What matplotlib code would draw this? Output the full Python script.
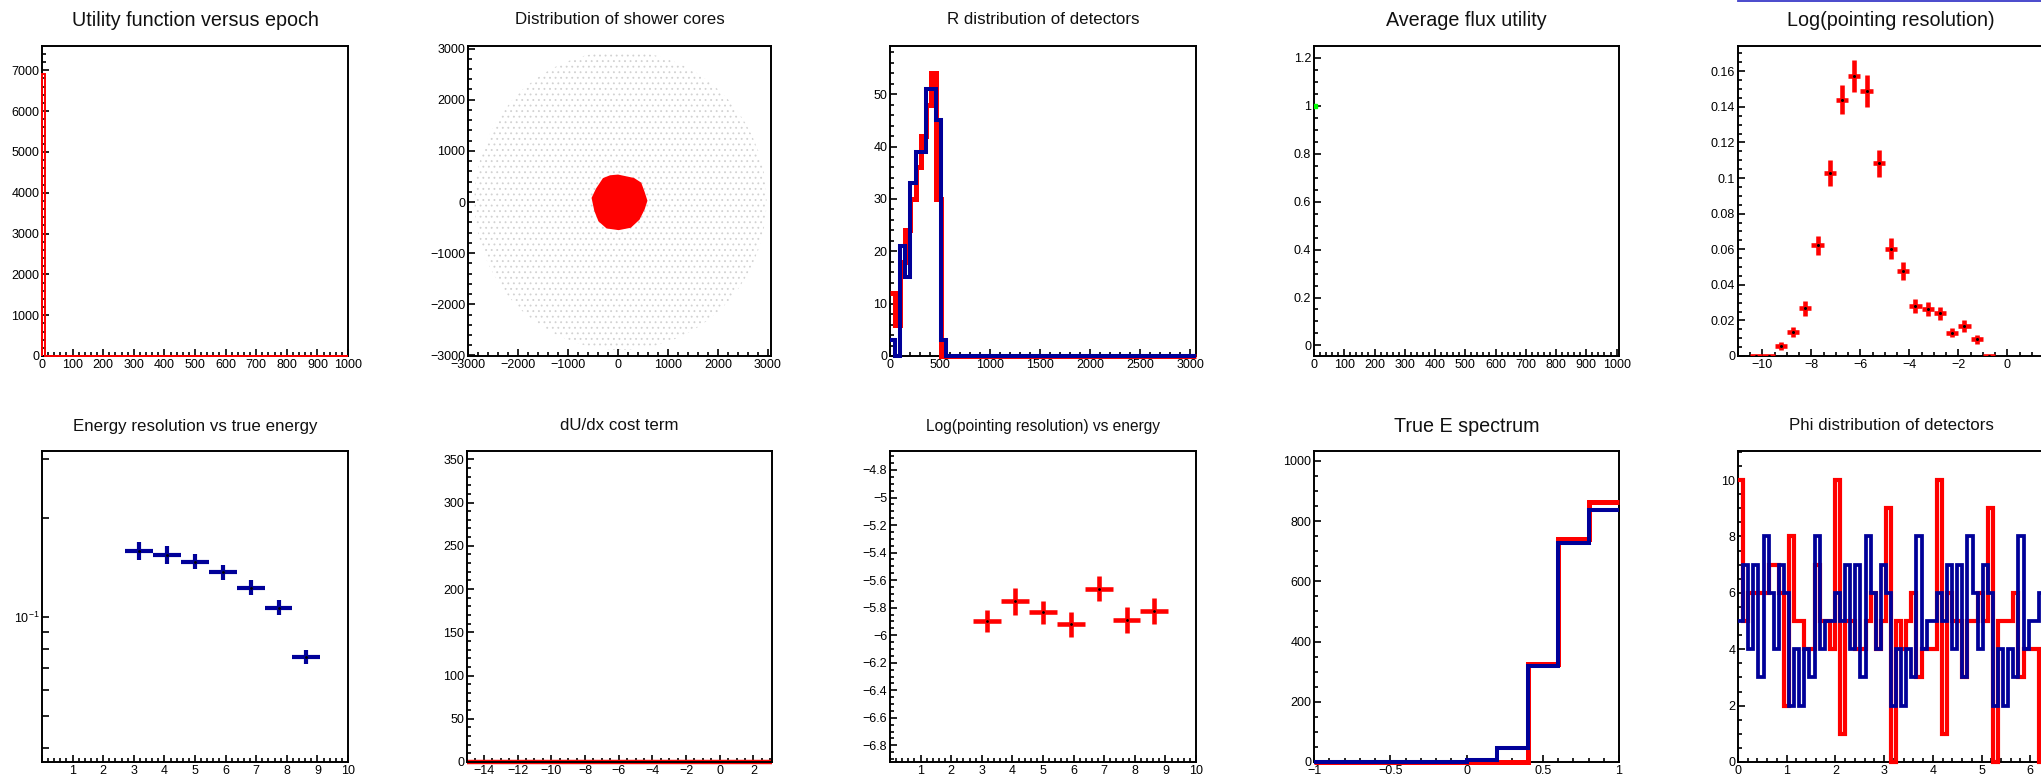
import numpy as np
import matplotlib
matplotlib.use("Agg")
import matplotlib.pyplot as plt
from matplotlib.ticker import MultipleLocator, FixedLocator, FuncFormatter, NullFormatter
from matplotlib.patches import Circle, Polygon
from matplotlib.lines import Line2D

plt.rcParams['font.family'] = ['Liberation Sans', 'DejaVu Sans']
plt.rcParams['hatch.linewidth'] = 0.6

# ---------------- data ----------------
# 1. Utility function versus epoch
utility_edges = [0, 10, 1000]
utility_counts = [6900, 0]

# 2. Distribution of shower cores
core_disk_center = (50, 30)
core_disk_radius = 2920
core_blob_x = [0, 313, 447, 513, 567, 513, 413, 247, 13, -220, -373, -453, -507, -420, -287, -153]
core_blob_y = [516, 451, 366, 190, 26, -137, -333, -484, -529, -497, -366, -170, 78, 255, 451, 503]

# 3. R distribution of detectors (60 bins, 0 - 3055)
r_range = (0, 3055)
r_red = [12, 6, 18, 24, 30, 36, 42, 48, 54, 30, 0] + [0] * 49
r_blue = [3, 0, 21, 15, 33, 39, 39, 51, 51, 45, 3] + [0] * 49

# 4. Average flux utility
flux_epoch = [3]
flux_value = [1.0]

# 5. Log(pointing resolution)
lp_centers = [-10.25, -9.75, -9.25, -8.75, -8.25, -7.75, -7.25, -6.75, -6.25, -5.75,
              -5.25, -4.75, -4.25, -3.75, -3.25, -2.75, -2.25, -1.75, -1.25, -0.75]
lp_values = [0.0, 0.0, 0.0056, 0.0135, 0.0269, 0.0621, 0.1027, 0.1441, 0.1574, 0.1490,
             0.1083, 0.0604, 0.0477, 0.0281, 0.0262, 0.0240, 0.0131, 0.0168, 0.0094, 0.0]
lp_errors = [0.0, 0.0, 0.0020, 0.0030, 0.0042, 0.0056, 0.0072, 0.0083, 0.0090, 0.0088,
             0.0076, 0.0060, 0.0050, 0.0037, 0.0039, 0.0036, 0.0026, 0.0033, 0.0024, 0.0]
lp_halfwidth = 0.25

# 6. Energy resolution vs true energy
e_centers = [3.18, 4.09, 5.00, 5.91, 6.82, 7.73, 8.64]
e_halfwidth = 0.4545
eres_values = [0.1585, 0.1545, 0.1472, 0.1369, 0.1227, 0.1067, 0.0757]
eres_errors = [0.0100, 0.0094, 0.0077, 0.0072, 0.0064, 0.0055, 0.0038]

# 7. dU/dx cost term
dudx_range = (-15, 3.1)
dudx_counts = [0, 0, 0, 0, 0, 0, 0, 0, 0, 0]

# 8. Log(pointing resolution) vs energy
lpe_values = [-5.898, -5.755, -5.835, -5.920, -5.661, -5.888, -5.825]
lpe_errors = [0.082, 0.095, 0.085, 0.090, 0.093, 0.095, 0.093]

# 9. True E spectrum
te_range = (-1, 1)
te_red = [0, 0, 0, 0, 0, 0, 0, 327, 740, 865]
te_blue = [0, 0, 0, 0, 0, 7, 46, 318, 729, 836]

# 10. Phi distribution of detectors (60 bins over 0 - 2pi)
phi_red = [10, 5, 6, 6, 6, 6, 7, 7, 6, 2, 8, 5, 5, 4, 4, 7, 5, 5, 4, 10,
           1, 5, 5, 4, 4, 5, 6, 4, 5, 9, 0, 5, 4, 5, 6, 3, 4, 4, 4, 10,
           1, 6, 5, 5, 3, 5, 5, 6, 5, 9, 0, 5, 5, 5, 6, 3, 4, 4, 4, 0]
phi_blue = [5, 7, 4, 7, 3, 8, 6, 4, 7, 6, 2, 4, 2, 4, 3, 8, 4, 5, 5, 6,
            5, 7, 4, 7, 3, 8, 6, 4, 7, 6, 2, 4, 2, 4, 3, 8, 4, 5, 5, 6,
            5, 7, 4, 7, 3, 8, 6, 4, 7, 6, 2, 4, 2, 4, 3, 8, 4, 5, 5, 6]

titles = ["Utility function versus epoch", "Distribution of shower cores",
          "R distribution of detectors", "Average flux utility", "Log(pointing resolution)",
          "Energy resolution vs true energy", "dU/dx cost term",
          "Log(pointing resolution) vs energy", "True E spectrum", "Phi distribution of detectors"]
title_sizes = [14.2, 12.2, 12.2, 14.2, 14.2, 12.2, 12.2, 11.2, 14.2, 12.2]

RED = '#ff0000'
BLUE = '#000099'

# ---------------- layout ----------------
W, H = 2041, 774
fig = plt.figure(figsize=(W / 100, H / 100), dpi=100)
fig.patch.set_facecolor('white')

cols_top = [(42, 348), (468, 771), (890, 1196), (1314, 1619), (1738, 2044)]
cols_bot = [(42, 348), (467, 772), (890, 1196), (1314, 1619), (1738, 2044)]
rows = [(46, 356), (451, 762)]
title_y = [20, 426]

axes = []
for r, cols in enumerate([cols_top, cols_bot]):
    t, b = rows[r]
    for l, rr in cols:
        ax = fig.add_axes([l / W, 1 - b / H, (rr - l) / W, (b - t) / H])
        axes.append(ax)

for i, ax in enumerate(axes):
    r = i // 5
    l, rr = (cols_top if r == 0 else cols_bot)[i % 5]
    fig.text((l + rr) / 2 / W, 1 - title_y[r] / H, titles[i], ha='center', va='center',
             fontsize=title_sizes[i], color='#111111')


def fmt_num(v, pos=None):
    if abs(v) < 1e-9:
        return '0'
    s = '%g' % round(v, 6)
    return s.replace('-', '\u2212')


def fmt_no_zero(v, pos=None):
    if abs(v) < 1e-9:
        return ''
    return fmt_num(v)


def style(ax, xmaj, xmin, ymaj, ymin, xfmt=fmt_num, yfmt=fmt_num):
    for s in ax.spines.values():
        s.set_linewidth(1.4)
        s.set_color('black')
    ax.xaxis.set_major_locator(MultipleLocator(xmaj))
    ax.xaxis.set_minor_locator(MultipleLocator(xmin))
    if ymaj is not None:
        ax.yaxis.set_major_locator(MultipleLocator(ymaj))
        ax.yaxis.set_minor_locator(MultipleLocator(ymin))
        ax.yaxis.set_major_formatter(FuncFormatter(yfmt))
    ax.xaxis.set_major_formatter(FuncFormatter(xfmt))
    ax.tick_params(which='both', direction='in', top=False, right=False,
                   width=1.2, labelsize=9, pad=2, colors='black')
    ax.tick_params(which='major', length=5.3)
    ax.tick_params(which='minor', length=2.9)


# 1. Utility
ax = axes[0]
ax.stairs(utility_counts, utility_edges, color=RED, lw=1.4, zorder=3, clip_on=False)
ax.set_xlim(0, 1000)
ax.set_ylim(0, 7593)
style(ax, 100, 20, 1000, 200)

# 2. Shower cores
ax = axes[1]
disk = Circle(core_disk_center, core_disk_radius, facecolor='white', edgecolor='#d2d2d2',
              linewidth=0, hatch='...', zorder=1)
ax.add_patch(disk)
ax.add_patch(Polygon(np.column_stack([core_blob_x, core_blob_y]), closed=True,
                     facecolor=RED, edgecolor=RED, linewidth=1.5, zorder=2))
ax.set_xlim(-3000, 3060)
ax.set_ylim(-3010, 3050)
style(ax, 1000, 200, 1000, 200)

# 3. R distribution
ax = axes[2]
r_edges = np.linspace(r_range[0], r_range[1], len(r_red) + 1)
ax.stairs(r_red, r_edges, color=RED, lw=3.6, zorder=3, clip_on=False, baseline=None)
ax.stairs(r_blue, r_edges, color=BLUE, lw=2.9, zorder=4, clip_on=False, baseline=None)
ax.set_xlim(*r_range)
ax.set_ylim(0, 59.2)
style(ax, 500, 100, 10, 2)

# 4. Average flux utility
ax = axes[3]
ax.plot(flux_epoch, flux_value, 's', color='#00ff00', ms=2.5, zorder=4)
ax.set_xlim(0, 1008)
ax.set_ylim(-0.044, 1.249)
style(ax, 100, 20, 0.2, 0.05)

# 5. Log(pointing resolution)
ax = axes[4]
ax.errorbar(lp_centers, lp_values, xerr=lp_halfwidth, yerr=lp_errors, fmt='none',
            ecolor=RED, elinewidth=3.3, capsize=0, zorder=3)
ax.plot(lp_centers, lp_values, 'o', color='black', ms=1.2, zorder=4)
ax.set_xlim(-11, 1.5)
ax.set_ylim(0, 0.1742)
style(ax, 2, 0.5, 0.02, 0.005)

# 6. Energy resolution vs true energy
ax = axes[5]
ax.errorbar(e_centers, eres_values, xerr=e_halfwidth, yerr=eres_errors, fmt='none',
            ecolor=BLUE, elinewidth=3.0, capsize=0, zorder=3)
ax.plot(e_centers, eres_values, 'o', color='black', ms=1.0, zorder=4)
ax.set_yscale('log')
ax.set_xlim(0, 10)
ax.set_ylim(0.0364, 0.318)
style(ax, 1, 0.2, None, None, xfmt=fmt_no_zero)
ax.yaxis.set_major_locator(FixedLocator([0.1]))
ax.yaxis.set_minor_locator(FixedLocator([0.04, 0.05, 0.06, 0.07, 0.08, 0.09, 0.2, 0.3]))
ax.yaxis.set_major_formatter(FuncFormatter(lambda v, p: r'$\mathdefault{10^{-1}}$'))
ax.yaxis.set_minor_formatter(NullFormatter())
ax.tick_params(axis='y', which='both', length=5.3)

# 7. dU/dx cost term
ax = axes[6]
dudx_edges = np.linspace(dudx_range[0], dudx_range[1], len(dudx_counts) + 1)
ax.stairs(dudx_counts, dudx_edges, color=RED, lw=3.2, zorder=2, clip_on=False, baseline=None)
ax.set_xlim(*dudx_range)
ax.set_ylim(0, 359.6)
style(ax, 2, 0.5, 50, 10)

# 8. Log(pointing resolution) vs energy
ax = axes[7]
ax.errorbar(e_centers, lpe_values, xerr=e_halfwidth, yerr=lpe_errors, fmt='none',
            ecolor=RED, elinewidth=3.3, capsize=0, zorder=3)
ax.plot(e_centers, lpe_values, 'o', color='black', ms=1.0, zorder=4)
ax.set_xlim(0, 10)
ax.set_ylim(-6.921, -4.662)
style(ax, 1, 0.2, 0.2, 0.05, xfmt=fmt_no_zero)

# 9. True E spectrum
ax = axes[8]
te_edges = np.linspace(te_range[0], te_range[1], len(te_red) + 1)
ax.stairs(te_red, te_edges, color=RED, lw=3.6, zorder=3, clip_on=False, baseline=None)
ax.stairs(te_blue, te_edges, color=BLUE, lw=2.9, zorder=4, clip_on=False, baseline=None)
ax.set_xlim(*te_range)
ax.set_ylim(0, 1033)
style(ax, 0.5, 0.1, 200, 50)

# 10. Phi distribution
ax = axes[9]
phi_edges = np.linspace(0, 2 * np.pi, len(phi_red) + 1)
ax.stairs(phi_red, phi_edges, color=RED, lw=3.0, zorder=3, clip_on=False, baseline=None)
ax.stairs(phi_blue, phi_edges, color=BLUE, lw=2.7, zorder=4, clip_on=False, baseline=None)
ax.set_xlim(0, 2 * np.pi)
ax.set_ylim(0, 11.03)
style(ax, 1, 0.2, 2, 0.5)

# selected-pad highlight line at the top of the last column
fig.add_artist(Line2D([1738 / W, 1.0], [1 - 0.8 / H, 1 - 0.8 / H], color='#3a3ac8', lw=1.3))

fig.savefig('out.png', dpi=100, facecolor='white')
